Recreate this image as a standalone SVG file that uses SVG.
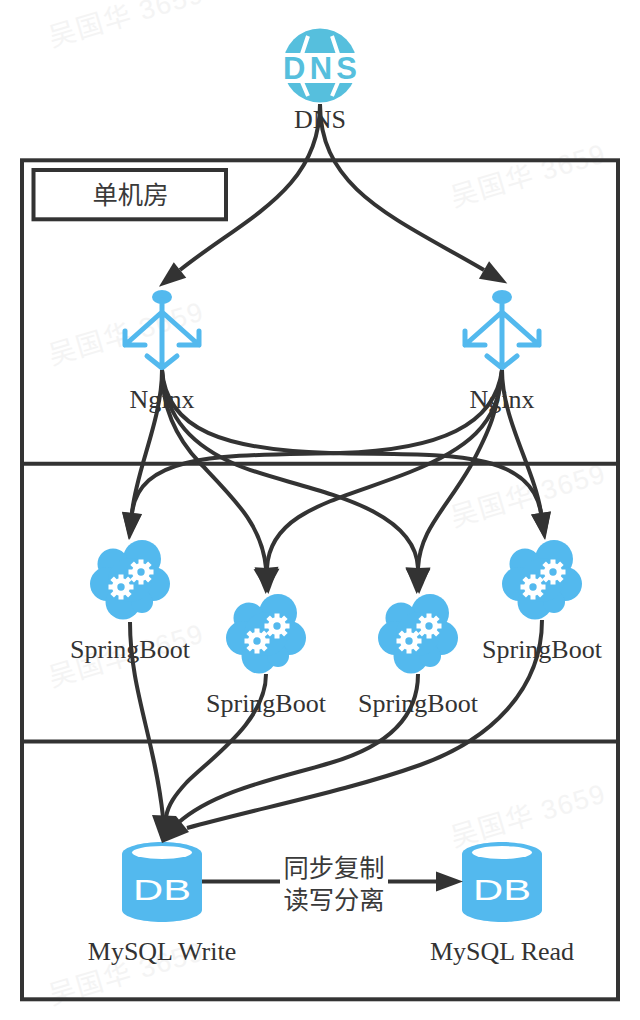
<svg xmlns="http://www.w3.org/2000/svg" xmlns:xlink="http://www.w3.org/1999/xlink" width="640" height="1020" viewBox="0 0 640 1020">
<style>
.lbl{font-family:"Liberation Serif",serif;font-size:26px;fill:#333;text-anchor:middle}
.cjk{font-family:"Noto Sans CJK SC","Liberation Sans",sans-serif;font-size:25.300px;fill:#3a3a3a;text-anchor:middle}
.wm{font-family:"Liberation Sans","Noto Sans CJK SC",sans-serif;font-size:27px;fill:#f4f4f4;letter-spacing:1.500px}
.fr{fill:none;stroke:#333;stroke-width:4}
.c{fill:none;stroke:#333;stroke-width:4}
.c1{marker-end:url(#ah)}
.c2{marker-end:url(#ahb)}
.ng{fill:none;stroke:#53b9ee;stroke-width:5;stroke-linecap:round;stroke-linejoin:round}
.db{font-family:"Liberation Sans",sans-serif;font-size:30px;fill:#fff;text-anchor:middle}
</style>
<defs>
<marker id="ah" markerUnits="userSpaceOnUse" markerWidth="30" markerHeight="24" refX="1" refY="12" orient="auto"><path d="M1 2L28 12L1 22Z" fill="#333"/></marker>
<marker id="ahb" markerUnits="userSpaceOnUse" markerWidth="30" markerHeight="28" refX="1" refY="14" orient="auto"><path d="M1 1.500L27 14L1 26.500Z" fill="#333"/></marker>
<g id="gear">
<circle r="9" fill="#fff"/>
<g fill="#fff"><rect x="-2.500" y="-12.500" width="5" height="25"/><rect x="-2.500" y="-12.500" width="5" height="25" transform="rotate(45)"/><rect x="-2.500" y="-12.500" width="5" height="25" transform="rotate(90)"/><rect x="-2.500" y="-12.500" width="5" height="25" transform="rotate(135)"/></g>
<circle r="3.700" fill="#53b9ee"/>
</g>
<g id="cloud">
<g fill="#53b9ee"><circle cx="12" cy="-21" r="19"/><circle cx="-17" cy="-16" r="15.500"/><circle cx="-23" cy="4" r="17"/><circle cx="23" cy="4" r="17"/><circle cx="-7" cy="22" r="17.500"/><circle cx="12" cy="22" r="11"/><circle cx="0" cy="0" r="22"/></g>
<use xlink:href="#gear" href="#gear" x="-9" y="7"/>
<use xlink:href="#gear" href="#gear" x="11" y="-8"/>
</g>
<g id="nginx">
<ellipse cx="0" cy="-73" rx="10" ry="7" fill="#53b9ee"/>
<path class="ng" d="M0-70V-2M-37-25L0-58L37-25M-37-39V-25H-17M37-39V-25H17M-15-14L0-2L15-14"/>
</g>
<g id="dbc">
<path d="M-40-68C-40-75-20-80 0-80S40-75 40-68V-12C40-5 20 0 0 0S-40-5-40-12Z" fill="#53b9ee"/>
<ellipse cx="0" cy="-69.500" rx="30" ry="6.500" fill="#fff"/>
<text class="db" y="-22" textLength="58" lengthAdjust="spacingAndGlyphs">DB</text>
</g>
</defs>
<rect width="640" height="1020" fill="#fff"/>
<g id="watermarks" class="wm">
<text transform="translate(52,47) rotate(-16.500)">吴国华 3659</text>
<text transform="translate(454,207) rotate(-16.500)">吴国华 3659</text>
<text transform="translate(52,365) rotate(-16.500)">吴国华 3659</text>
<text transform="translate(454,527) rotate(-16.500)">吴国华 3659</text>
<text transform="translate(52,687) rotate(-16.500)">吴国华 3659</text>
<text transform="translate(454,847) rotate(-16.500)">吴国华 3659</text>
<text transform="translate(52,1005) rotate(-16.500)">吴国华 3659</text>
</g>
<g id="frames">
<rect class="fr" x="22" y="160.300" width="596" height="839"/>
<path class="fr" d="M22 463.800H618M22 741.500H618"/>
</g>
<g id="room"><rect class="fr" x="33.500" y="170" width="192.500" height="49.300"/><text class="cjk" x="130.500" y="204">单机房</text></g>
<g id="dns">
<circle cx="320" cy="65.500" r="37" fill="#56bfdd"/>
<path d="M308 36L302 54M332 36L338 54M302 82L308 96M338 82L332 96" fill="none" stroke="#fff" stroke-width="4"/>
<rect x="280" y="53" width="80" height="30" fill="#fff"/>
<text x="320" y="78.800" font-family="Liberation Sans,sans-serif" font-weight="bold" font-size="31" fill="#56bfdd" text-anchor="middle" textLength="74">DNS</text>
<text class="lbl" x="320" y="128">DNS</text>
</g>
<g id="nginx1"><use xlink:href="#nginx" href="#nginx" x="162" y="370"/><text class="lbl" x="162" y="408">Nginx</text></g>
<g id="nginx2"><use xlink:href="#nginx" href="#nginx" x="502" y="370"/><text class="lbl" x="502" y="408">Nginx</text></g>
<g id="sb1"><use xlink:href="#cloud" href="#cloud" x="130" y="580"/><text class="lbl" x="130" y="658">SpringBoot</text></g>
<g id="sb2"><use xlink:href="#cloud" href="#cloud" x="266" y="634"/><text class="lbl" x="266" y="712">SpringBoot</text></g>
<g id="sb3"><use xlink:href="#cloud" href="#cloud" x="418" y="634"/><text class="lbl" x="418" y="712">SpringBoot</text></g>
<g id="sb4"><use xlink:href="#cloud" href="#cloud" x="542" y="580"/><text class="lbl" x="542" y="658">SpringBoot</text></g>
<g id="dbw"><use xlink:href="#dbc" href="#dbc" x="162" y="922"/><text class="lbl" x="162" y="960">MySQL Write</text></g>
<g id="dbr"><use xlink:href="#dbc" href="#dbc" x="502" y="922"/><text class="lbl" x="502" y="960">MySQL Read</text></g>
<g id="sync"><text class="cjk" x="334" y="877">同步复制</text><text class="cjk" x="334" y="909">读写分离</text></g>
<g id="connectors">
<path class="c c1" d="M320 104C320 190 245 218 180 270"/>
<path class="c c1" d="M320 104C320 190 395 218 484 270"/>
<path class="c c1" d="M162 370C162 420 136 470 132 513"/>
<path class="c c2" d="M162 370C162 410 178 440 200 463C235 500 262 525 266 568"/>
<path class="c c2" d="M162 370C165 420 195 447 237 465C290 488 415 500 418 568"/>
<path class="c c1" d="M162 370C166 430 225 450 330 453C430 456 530 445 541 513"/>
<path class="c c1" d="M502 370C502 420 535 470 541 513"/>
<path class="c c2" d="M502 370C498 410 490 430 470 467C445 510 420 530 418 568"/>
<path class="c c2" d="M502 370C500 425 465 450 410 472C340 500 270 510 267 568"/>
<path class="c c1" d="M502 370C495 425 440 450 340 453C230 456 140 450 132 513"/>
<path class="c" d="M130 622C130 690 155 740 163 817"/>
<path class="c" d="M266 674C266 720 215 755 187 782C175 795 168 805 166 817"/>
<path class="c" d="M418 674C418 725 375 750 330 763C280 778 215 790 178 823"/>
<path class="c" d="M542 620C542 690 490 740 420 765C350 790 260 808 187 828"/>
<path d="M152 815L176 816L189 832L162 843Z" fill="#333"/>
<path class="c" d="M202 881.500H280"/>
<path class="c c1" d="M388 881.500H436"/>
</g>
</svg>
